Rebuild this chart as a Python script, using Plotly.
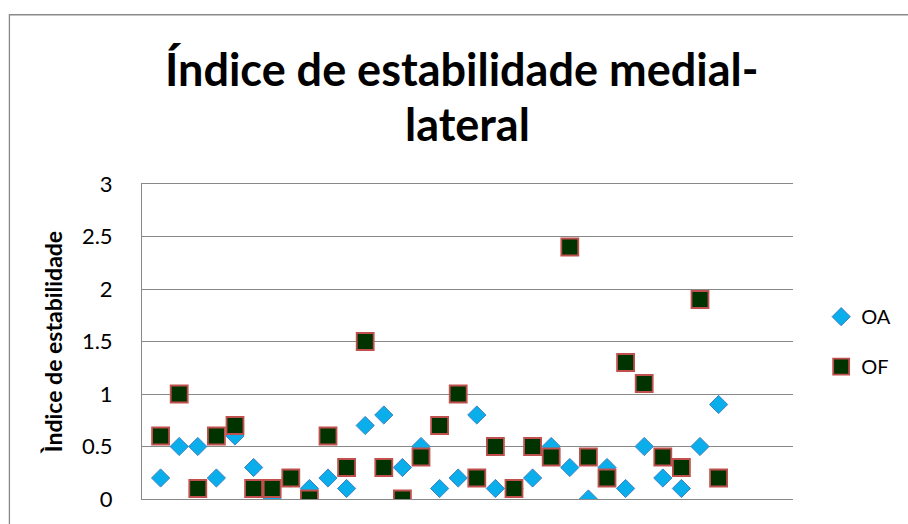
import plotly.graph_objects as go

# Measurement index (1..31) shared by both series
trial = list(range(1, 32))

# Medial-lateral stability index, eyes open (OA) and eyes closed (OF)
oa_values = [0.2, 0.5, 0.5, 0.2, 0.6, 0.3, 0.0, 0.2, 0.1, 0.2,
             0.1, 0.7, 0.8, 0.3, 0.5, 0.1, 0.2, 0.8, 0.1, 0.1,
             0.2, 0.5, 0.3, 0.0, 0.3, 0.1, 0.5, 0.2, 0.1, 0.5, 0.9]
of_values = [0.6, 1.0, 0.1, 0.6, 0.7, 0.1, 0.1, 0.2, 0.0, 0.6,
             0.3, 1.5, 0.3, 0.0, 0.4, 0.7, 1.0, 0.2, 0.5, 0.1,
             0.5, 0.4, 2.4, 0.4, 0.2, 1.3, 1.1, 0.4, 0.3, 1.9, 0.2]

y_ticks = [0, 0.5, 1, 1.5, 2, 2.5, 3]
y_tick_text = ["0", "0.5", "1", "1.5", "2", "2.5", "3"]

W, H = 908, 524
ML, MR, MT, MB = 141.7, 112.3, 184.0, 22.7
PW, PH = W - ML - MR, H - MT - MB
GRID = "#888888"
FONT = "Lato, 'Open Sans', sans-serif"


def px_x(x):
    return (x - ML) / PW


def px_y(y):
    return (H - MB - y) / PH


fig = go.Figure()
fig.add_trace(go.Scatter(
    x=trial, y=oa_values, mode="markers", name="OA", legendgroup="oa",
    marker=dict(symbol="diamond", size=14, color="#0AAEEB",
                line=dict(color="#3F7FC4", width=1)),
))
fig.add_trace(go.Scatter(
    x=trial, y=of_values, mode="markers", name="OF", legendgroup="of",
    marker=dict(symbol="square", size=17, color="#013300",
                line=dict(color="#C0504D", width=1.8)),
))

fig.update_layout(
    width=W, height=H,
    margin=dict(l=ML, r=MR, t=MT, b=MB, pad=0),
    paper_bgcolor="white", plot_bgcolor="white",
    font=dict(family=FONT, color="black"),
    showlegend=True,
    legend=dict(
        x=px_x(824), y=px_y(298), xanchor="left", yanchor="top",
        font=dict(size=20, family=FONT, color="black"),
        traceorder="grouped", tracegroupgap=21,
        bgcolor="rgba(0,0,0,0)", borderwidth=0,
    ),
    xaxis=dict(
        range=[0, 35], showgrid=False, zeroline=False,
        showticklabels=False, ticks="",
        showline=True, mirror=True, linecolor=GRID, linewidth=1,
    ),
    yaxis=dict(
        range=[0, 3], tickvals=y_ticks, ticktext=y_tick_text,
        showgrid=True, gridcolor=GRID, gridwidth=1,
        zeroline=False, showline=True, linecolor=GRID, linewidth=1,
        ticks="", ticklabelstandoff=24,
        tickfont=dict(size=22, family=FONT, color="black"),
        title=dict(text="<b>Ìndice de estabilidade</b>", standoff=12,
                   font=dict(size=23, family=FONT, color="black")),
    ),
    shapes=[dict(
        type="rect", xref="paper", yref="paper",
        x0=px_x(8.5), x1=px_x(930), y0=px_y(540), y1=px_y(13.5),
        line=dict(color="#8A8A8A", width=1.3), fillcolor="rgba(0,0,0,0)",
        layer="below",
    )],
    annotations=[
        dict(text="<b>Índice de estabilidade medial-</b>", xref="paper", yref="paper",
             x=px_x(463), y=px_y(68), xanchor="center", yanchor="middle",
             showarrow=False, font=dict(size=45, family=FONT, color="black")),
        dict(text="<b>lateral</b>", xref="paper", yref="paper",
             x=px_x(469), y=px_y(124), xanchor="center", yanchor="middle",
             showarrow=False, font=dict(size=45, family=FONT, color="black")),
    ],
)

fig.write_html("out.html")
